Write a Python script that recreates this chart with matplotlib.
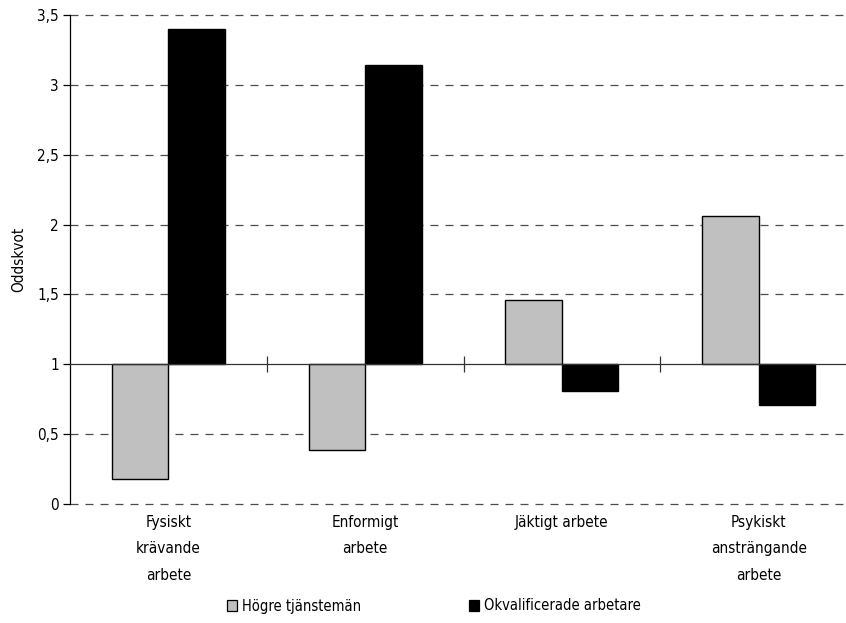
import matplotlib
matplotlib.use("Agg")
import matplotlib.pyplot as plt
from matplotlib.patches import Patch
from matplotlib.ticker import FuncFormatter, FixedLocator
import numpy as np

plt.rcParams['font.family'] = ['DejaVu Sans']
plt.rcParams['font.stretch'] = 'condensed'

categories = ["Fysiskt\nkrävande\narbete", "Enformigt\narbete", "Jäktigt arbete",
              "Psykiskt\nansträngande\narbete"]
series_names = ["Högre tjänstemän", "Okvalificerade arbetare"]
hogre_tjansteman = [0.18, 0.39, 1.46, 2.06]
okvalificerade = [3.40, 3.14, 0.81, 0.71]
y_ticks = [0, 0.5, 1, 1.5, 2, 2.5, 3, 3.5]
baseline = 1.0

fig = plt.figure(figsize=(8.46, 6.23), dpi=100)
ax = fig.add_axes([70 / 846, 119 / 623, 787 / 846, 489 / 623])

x = np.arange(len(categories))
w = 0.287
ax.bar(x - w / 2, np.array(hogre_tjansteman) - baseline, w, bottom=baseline,
       color="#c0c0c0", edgecolor="black", linewidth=1.0, zorder=3)
ax.bar(x + w / 2, np.array(okvalificerade) - baseline, w, bottom=baseline,
       color="black", edgecolor="black", linewidth=1.0, zorder=3)

ax.set_xlim(-0.5, len(categories) - 0.5)
ax.set_ylim(0, 3.5)

ax.yaxis.set_major_locator(FixedLocator(y_ticks))
ax.yaxis.set_major_formatter(FuncFormatter(lambda v, p: f"{v:g}".replace(".", ",")))
ax.tick_params(axis="y", direction="out", length=5, width=0.9, labelsize=11, pad=3)
for v in y_ticks:
    if v != baseline:
        ax.axhline(v, color="#4d4d4d", lw=0.9, ls=(0, (6.4, 5.6)), zorder=1,
                   clip_on=False)

ax.spines["bottom"].set_position(("data", baseline))
ax.spines["bottom"].set_linewidth(0.9)
ax.spines["bottom"].set_color("#333333")
ax.spines["top"].set_visible(False)
ax.spines["right"].set_visible(False)
ax.spines["left"].set_linewidth(0.9)
ax.spines["left"].set_zorder(4)
ax.set_xticks(x[:-1] + 0.5)
ax.set_xticklabels([])
ax.tick_params(axis="x", direction="inout", length=12, width=0.9, color="#333333")
ax.spines["bottom"].set_zorder(4)

trans = matplotlib.transforms.blended_transform_factory(ax.transData, ax.transAxes)
for xi, lab in zip(x, categories):
    ax.text(xi, -0.022, lab, transform=trans, ha="center", va="top",
            fontsize=11, linespacing=1.95)

ax.set_ylabel("Oddskvot", fontsize=11, labelpad=8)

handles = [Patch(facecolor="#c0c0c0", edgecolor="black", linewidth=0.9),
           Patch(facecolor="black", edgecolor="black", linewidth=0.9)]
fig.legend(handles, series_names, loc="center", bbox_to_anchor=(434 / 846, 17 / 623),
           ncol=2, frameon=False, fontsize=10.5, handlelength=0.7, handleheight=0.7,
           handletextpad=0.35, columnspacing=7.4)

fig.savefig("out.png", dpi=100)
